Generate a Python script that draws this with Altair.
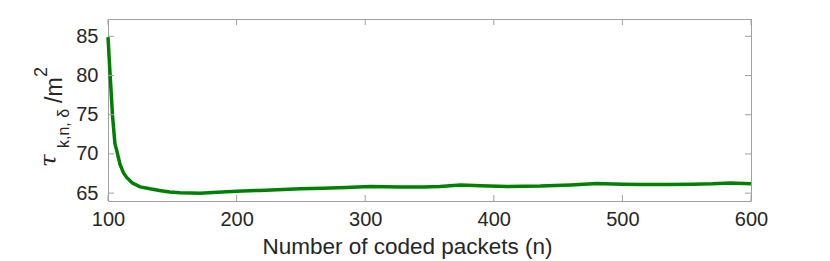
import altair as alt
import pandas as pd

# Data
n_vals = [100, 101.6, 103.6, 105.4, 107, 109.3, 112, 114.5, 119, 125, 132.7, 140,
          148, 156, 171.5, 185, 200, 218, 236, 250, 267, 285, 304, 327, 345, 358,
          374, 390, 410, 436, 460, 480, 500, 514, 535, 555, 570, 584, 600]
tau_vals = [84.9, 80.2, 74.7, 71.3, 70.3, 68.7, 67.6, 67.0, 66.3, 65.8, 65.55, 65.35,
            65.15, 65.05, 65.0, 65.1, 65.25, 65.35, 65.47, 65.55, 65.64, 65.72, 65.85, 65.78, 65.8, 65.85,
            66.05, 65.95, 65.85, 65.9, 66.05, 66.24, 66.15, 66.1, 66.1, 66.15, 66.2, 66.3, 66.2]
x_ticks = [100, 200, 300, 400, 500, 600]
y_ticks = [65, 70, 75, 80, 85]
x_title = "Number of coded packets (n)"

W, H = 643, 182
GRID = "#a0a0a0"
TXT = "#262626"
FONT = "Liberation Sans"

df = pd.DataFrame({"n": n_vals, "tau": tau_vals})
xt = pd.DataFrame({"v": x_ticks})
yt = pd.DataFrame({"v": y_ticks})

xs = alt.Scale(domain=[100, 600], nice=False, zero=False)
ys = alt.Scale(domain=[64.0, 87.2], nice=False, zero=False)

line = alt.Chart(df).mark_line(color="#008000", strokeWidth=3.5).encode(
    x=alt.X("n:Q", scale=xs,
            axis=alt.Axis(values=x_ticks, title=None, domain=False, ticks=False, grid=False,
                          labelFontSize=20, labelColor=TXT, labelFont=FONT, labelPadding=8,
                          labelFlush=False)),
    y=alt.Y("tau:Q", scale=ys,
            axis=alt.Axis(values=y_ticks, title=None, domain=False, ticks=False, grid=False,
                          labelFontSize=20, labelColor=TXT, labelFont=FONT, labelPadding=10)),
)

tl = 6
xb = alt.Chart(xt).mark_rule(color=GRID, strokeWidth=1).encode(
    x=alt.X("v:Q", scale=xs), y=alt.value(H), y2=alt.value(H - tl))
xtp = alt.Chart(xt).mark_rule(color=GRID, strokeWidth=1).encode(
    x=alt.X("v:Q", scale=xs), y=alt.value(0), y2=alt.value(tl))
yl = alt.Chart(yt).mark_rule(color=GRID, strokeWidth=1).encode(
    y=alt.Y("v:Q", scale=ys), x=alt.value(0), x2=alt.value(tl))
yr = alt.Chart(yt).mark_rule(color=GRID, strokeWidth=1).encode(
    y=alt.Y("v:Q", scale=ys), x=alt.value(W), x2=alt.value(W - tl))

def lab(text, x, y, size, font=FONT, style="normal", angle=270, align="left"):
    return alt.Chart(pd.DataFrame({"t": [text]})).mark_text(
        angle=angle, align=align, baseline="alphabetic", fontSize=size, font=font,
        fontStyle=style, color=TXT).encode(text="t:N", x=alt.value(x), y=alt.value(y))

title_parts = [
    lab("τ", -52.5, 148, 23, font="DejaVu Serif", style="italic"),
    lab("k,n, δ", -39, 129, 16),
    lab("/m", -46.5, 84, 23),
    lab("2", -61, 58, 18),
    lab(x_title, 299.5, 235, 22.5, angle=0, align="center"),
]

chart = alt.layer(line, xb, xtp, yl, yr, *title_parts).properties(
    width=W, height=H,
    autosize=alt.AutoSizeParams(type="none"),
    padding={"left": 100, "top": 11, "right": 71, "bottom": 58},
).configure_view(stroke=GRID, strokeWidth=1)

chart.save("out.html", embed_options={"renderer": "svg", "actions": False})
